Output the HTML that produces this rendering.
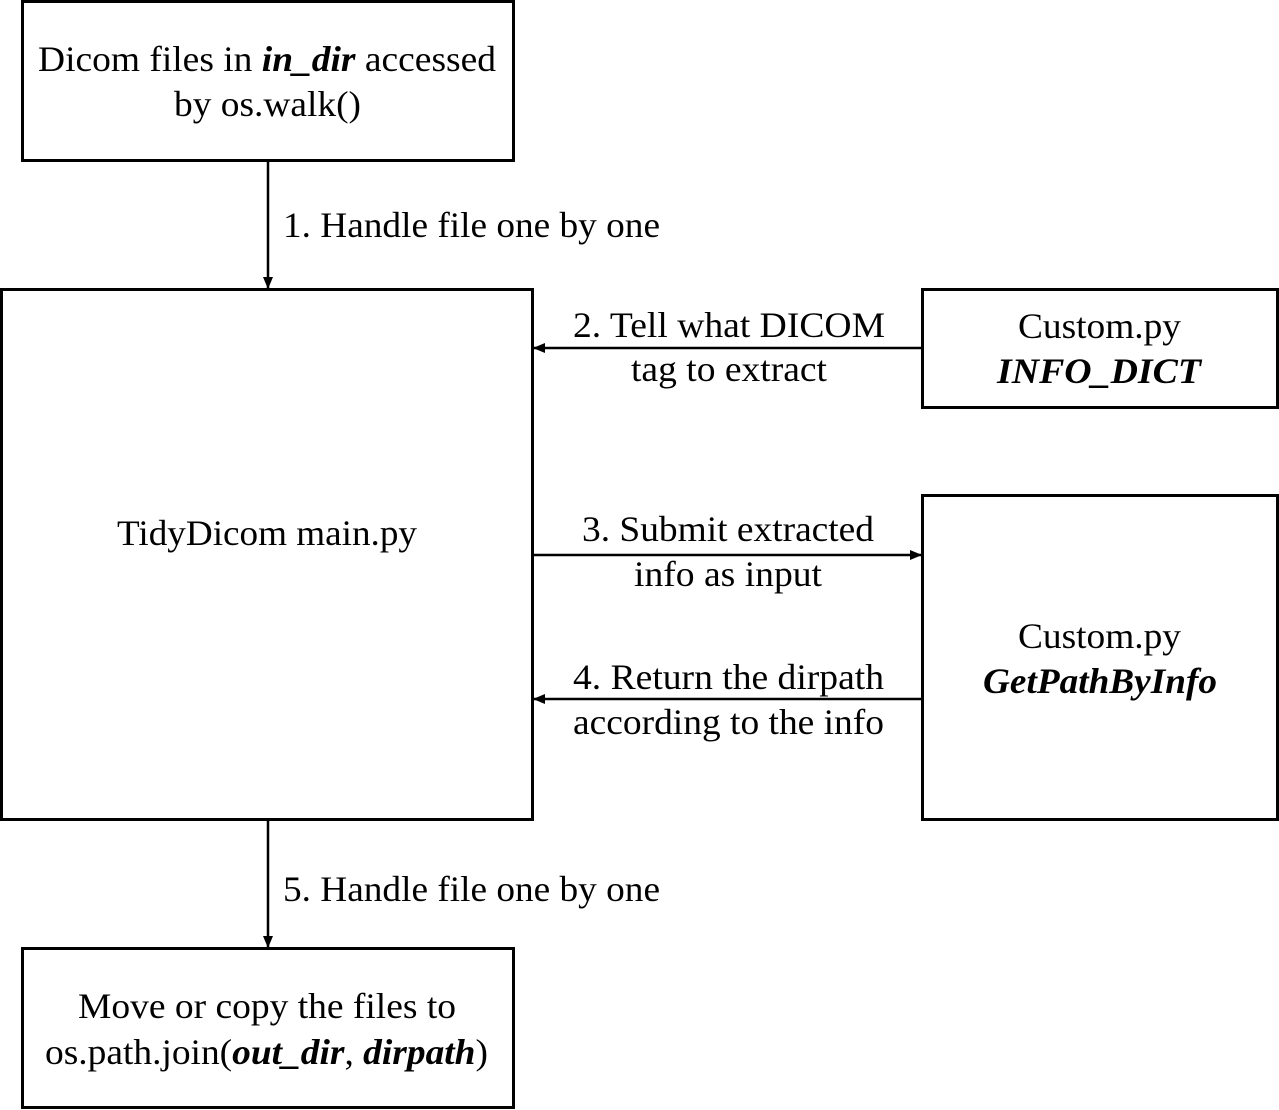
<!DOCTYPE html>
<html><head><style>
html,body{margin:0;padding:0;background:#fff;}
svg{display:block;}
text{font-family:"Liberation Serif",serif;font-size:36px;fill:#000;}
</style></head><body>
<svg width="1279" height="1110" viewBox="0 0 1279 1110">
<defs><marker id="a" markerWidth="12" markerHeight="10" refX="11" refY="5" orient="auto" markerUnits="userSpaceOnUse"><path d="M0,0 L12,5 L0,10 Z" fill="#000"/></marker></defs>
<g fill="none" stroke="#000" stroke-width="3">
<rect x="22.5" y="1.5" width="491" height="159"/>
<rect x="1.5" y="289.5" width="531" height="530"/>
<rect x="922.5" y="289.5" width="355" height="118"/>
<rect x="922.5" y="495.5" width="355" height="324"/>
<rect x="22.5" y="948.5" width="491" height="159"/>
</g>
<g stroke="#000" stroke-width="2.5" marker-end="url(#a)">
<line x1="268" y1="161" x2="268" y2="288"/>
<line x1="922" y1="348" x2="534" y2="348"/>
<line x1="533" y1="555" x2="921" y2="555"/>
<line x1="922" y1="699" x2="534" y2="699"/>
<line x1="268" y1="821" x2="268" y2="947"/>
</g>
<g lengthAdjust="spacingAndGlyphs">
<text x="38" y="71" textLength="458" lengthAdjust="spacingAndGlyphs">Dicom files in <tspan font-weight="bold" font-style="italic">in_dir</tspan> accessed</text>
<text x="174" y="116" textLength="187" lengthAdjust="spacingAndGlyphs">by os.walk()</text>
<text x="117" y="545" textLength="300" lengthAdjust="spacingAndGlyphs">TidyDicom main.py</text>
<text x="1018" y="338" textLength="163" lengthAdjust="spacingAndGlyphs">Custom.py</text>
<text x="997" y="383" textLength="204" lengthAdjust="spacingAndGlyphs" font-weight="bold" font-style="italic">INFO_DICT</text>
<text x="1018" y="648" textLength="163" lengthAdjust="spacingAndGlyphs">Custom.py</text>
<text x="983" y="693" textLength="234" lengthAdjust="spacingAndGlyphs" font-weight="bold" font-style="italic">GetPathByInfo</text>
<text x="573" y="337" textLength="312" lengthAdjust="spacingAndGlyphs">2. Tell what DICOM</text>
<text x="631" y="381" textLength="196" lengthAdjust="spacingAndGlyphs">tag to extract</text>
<text x="582" y="541" textLength="292" lengthAdjust="spacingAndGlyphs">3. Submit extracted</text>
<text x="634" y="586" textLength="188" lengthAdjust="spacingAndGlyphs">info as input</text>
<text x="573" y="689" textLength="311" lengthAdjust="spacingAndGlyphs">4. Return the dirpath</text>
<text x="573" y="734" textLength="311" lengthAdjust="spacingAndGlyphs">according to the info</text>
<text x="78" y="1018" textLength="378" lengthAdjust="spacingAndGlyphs">Move or copy the files to</text>
<text x="45" y="1064" textLength="443" lengthAdjust="spacingAndGlyphs">os.path.join(<tspan font-weight="bold" font-style="italic">out_dir</tspan>, <tspan font-weight="bold" font-style="italic">dirpath</tspan>)</text>
<text x="283" y="237" textLength="377" lengthAdjust="spacingAndGlyphs">1. Handle file one by one</text>
<text x="283" y="901" textLength="377" lengthAdjust="spacingAndGlyphs">5. Handle file one by one</text>
</g>
</svg>
</body></html>
